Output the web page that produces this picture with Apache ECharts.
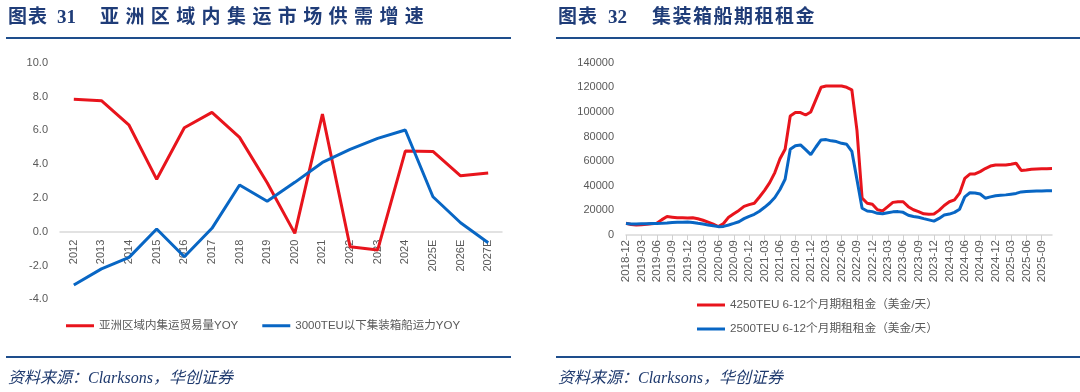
<!DOCTYPE html>
<html>
<head>
<meta charset="utf-8">
<script src="https://cdn.jsdelivr.net/npm/echarts@6/dist/echarts.min.js"></script>
<style>
  html, body { margin: 0; padding: 0; background: #fff; }
  #wrap { position: relative; width: 1080px; height: 392px; overflow: hidden; }
  #chart { position: absolute; left: 0; top: 0; width: 1080px; height: 392px; }
  .t { position: absolute; white-space: pre; font-weight: bold; color: #1f3c78;
       font-family: 'Liberation Serif', 'Noto Sans CJK SC', serif; font-size: 19px; line-height: 21px; top: 6px; }
  .rule { position: absolute; height: 2px; background: #1e4d8c; }
  .src { position: absolute; white-space: pre; font-style: italic; color: #1f3a6e;
         font-family: 'Liberation Serif', 'Noto Sans CJK SC', serif; font-size: 16px; line-height: 20px; top: 368px; }
</style>
</head>
<body>
<div id="wrap">
  <div id="chart"></div>
  <span class="t" style="left:8px;letter-spacing:1px;">图表</span>
  <span class="t" style="left:57px;">31</span>
  <span class="t" style="left:100px;letter-spacing:6.4px;">亚洲区域内集运市场供需增速</span>
  <div class="rule" style="left:6px;top:37px;width:505px;"></div>
  <div class="rule" style="left:6px;top:356px;width:505px;"></div>
  <span class="src" style="left:8px;">资料来源：Clarksons，华创证券</span>

  <span class="t" style="left:558px;letter-spacing:1px;">图表</span>
  <span class="t" style="left:608px;">32</span>
  <span class="t" style="left:652px;letter-spacing:1.5px;">集装箱船期租租金</span>
  <div class="rule" style="left:556px;top:37px;width:524px;"></div>
  <div class="rule" style="left:556px;top:356px;width:524px;"></div>
  <span class="src" style="left:558px;">资料来源：Clarksons，华创证券</span>
</div>
<script>
// ---- Chart 31 data ----
var years = ['2012','2013','2014','2015','2016','2017','2018','2019','2020','2021','2022','2023','2024','2025E','2026E','2027E'];
var asiaTradeYoy = [7.83, 7.75, 6.3, 3.1, 6.15, 7.06, 5.58, 2.9, -0.1, 6.96, -0.89, -1.08, 4.77, 4.75, 3.31, 3.47];
var smallShipCapYoy = [-3.15, -2.2, -1.52, 0.16, -1.48, 0.2, 2.76, 1.8, 2.92, 4.1, 4.87, 5.52, 6.02, 2.07, 0.53, -0.65];
var leftNames = ['亚洲区域内集运贸易量YOY', '3000TEU以下集装箱船运力YOY'];
var leftMin = -4, leftMax = 10, leftStep = 2;

// ---- Chart 32 data (monthly, 2018-12 .. 2025-11) ----
var startYear = 2018, startMonth = 12, monthCount = 84;
var months = [];
for (var i = 0; i < monthCount; i++) {
  var mm = startMonth - 1 + i;
  var y = startYear + Math.floor(mm / 12);
  var m = (mm % 12) + 1;
  months.push(y + '-' + (m < 10 ? '0' + m : '' + m));
}
var rent4250 = [
  9500, 8600, 8200, 8300, 8800, 9200, 9500, 12500, 15000, 14500, 14000, 14000,
  13800, 14000, 13200, 12000, 10500, 8800, 6900, 9300, 14500, 17300, 20000, 23300,
  24700, 25800, 30900, 36300, 42500, 50700, 62000, 69700, 96700, 99500, 99500, 97500,
  100000, 110000, 120000, 121000, 121000, 121000, 121000, 120000, 118000, 85000, 30000, 25800,
  25000, 20500, 19600, 23000, 26500, 27100, 27000, 23000, 20500, 19000, 17200, 16800,
  17000, 20000, 24000, 27000, 28500, 34000, 46000, 49500, 49600, 51500, 54000, 56000,
  56900, 56900, 56900, 57500, 58300, 52500, 52800, 53500, 53700, 53800, 53900, 54000
];
var rent2500 = [
  9300, 9000, 9000, 9100, 9200, 9300, 9400, 9500, 9800, 10200, 10300, 10400,
  10500, 10200, 9500, 8900, 8200, 7500, 6800, 7000, 8100, 9400, 10800, 13300,
  15200, 16800, 19300, 22500, 26000, 30500, 37000, 45300, 69700, 72600, 73200, 69400,
  65300, 71500, 77200, 77500, 76500, 75900, 74500, 73700, 68000, 45000, 21700, 19500,
  19000, 17600, 17200, 18000, 18800, 19000, 18400, 16000, 15000, 14400, 13300, 12300,
  11300, 13500, 16200, 17000, 18400, 21000, 31000, 34300, 34200, 33300, 29900, 31000,
  31900, 32300, 32600, 33200, 33800, 35000, 35300, 35500, 35700, 35800, 35900, 36000
];
var rightNames = ['4250TEU 6-12个月期租租金（美金/天）', '2500TEU 6-12个月期租租金（美金/天）'];

var RED = '#e8141c', BLUE = '#0866c4', GREY = '#595959';
var FONT = "'Liberation Sans', 'Noto Sans CJK SC', sans-serif";

var leftGridHeight = 236.6;
// lift the category axis (line + labels) up to the zero value of the left value axis
var zeroOffset = -leftGridHeight * (0 - leftMin) / (leftMax - leftMin);

var chart = echarts.init(document.getElementById('chart'), null, { renderer: 'canvas' });
chart.setOption({
  animation: false,
  textStyle: { fontFamily: FONT },
  grid: [
    { left: 60, top: 62.7, width: 442, height: leftGridHeight, containLabel: false },
    { left: 626, top: 62.7, width: 426, height: 172.3, containLabel: false }
  ],
  legend: [
    {
      left: 66, top: 320, padding: 0, itemWidth: 28, itemHeight: 3, itemGap: 24, icon: 'rect',
      data: leftNames,
      textStyle: { color: GREY, fontSize: 11.5, fontFamily: FONT }
    },
    {
      left: 697, top: 298, padding: 0, orient: 'vertical', itemWidth: 28, itemHeight: 3, itemGap: 10, icon: 'rect',
      data: rightNames,
      textStyle: { color: GREY, fontSize: 11.7, lineHeight: 14, fontFamily: FONT }
    }
  ],
  xAxis: [
    {
      type: 'category', gridIndex: 0, data: years, boundaryGap: true,
      position: 'bottom', offset: zeroOffset,
      axisLine: { onZero: false, lineStyle: { color: '#d9d9d9', width: 1.5 } },
      axisTick: { show: false },
      axisLabel: { rotate: 90, color: GREY, fontSize: 11, margin: 8, interval: 0 },
      splitLine: { show: false }
    },
    {
      type: 'category', gridIndex: 1, data: months, boundaryGap: false,
      axisLine: { onZero: true, lineStyle: { color: '#d9d9d9', width: 1.5 } },
      axisTick: { show: true, interval: 2, length: 5, lineStyle: { color: '#d0d0d0' } },
      axisLabel: { rotate: 90, color: GREY, fontSize: 11.5, margin: 5, interval: 2 },
      splitLine: { show: false }
    }
  ],
  yAxis: [
    {
      type: 'value', gridIndex: 0, min: leftMin, max: leftMax, interval: leftStep,
      axisLine: { show: false }, axisTick: { show: false }, splitLine: { show: false },
      axisLabel: { color: GREY, fontSize: 11, margin: 12, formatter: function (v) { return v.toFixed(1); } }
    },
    {
      type: 'value', gridIndex: 1, min: 0, max: 140000, interval: 20000,
      axisLine: { show: false }, axisTick: { show: false }, splitLine: { show: false },
      axisLabel: { color: GREY, fontSize: 11, margin: 12, formatter: function (v) { return String(v); } }
    }
  ],
  series: [
    { name: leftNames[0], type: 'line', xAxisIndex: 0, yAxisIndex: 0, data: asiaTradeYoy,
      showSymbol: false, symbol: 'none', lineStyle: { color: RED, width: 3 }, itemStyle: { color: RED } },
    { name: leftNames[1], type: 'line', xAxisIndex: 0, yAxisIndex: 0, data: smallShipCapYoy,
      showSymbol: false, symbol: 'none', lineStyle: { color: BLUE, width: 3 }, itemStyle: { color: BLUE } },
    { name: rightNames[0], type: 'line', xAxisIndex: 1, yAxisIndex: 1, data: rent4250,
      showSymbol: false, symbol: 'none', lineStyle: { color: RED, width: 3 }, itemStyle: { color: RED } },
    { name: rightNames[1], type: 'line', xAxisIndex: 1, yAxisIndex: 1, data: rent2500,
      showSymbol: false, symbol: 'none', lineStyle: { color: BLUE, width: 3 }, itemStyle: { color: BLUE } }
  ]
});
</script>
</body>
</html>
